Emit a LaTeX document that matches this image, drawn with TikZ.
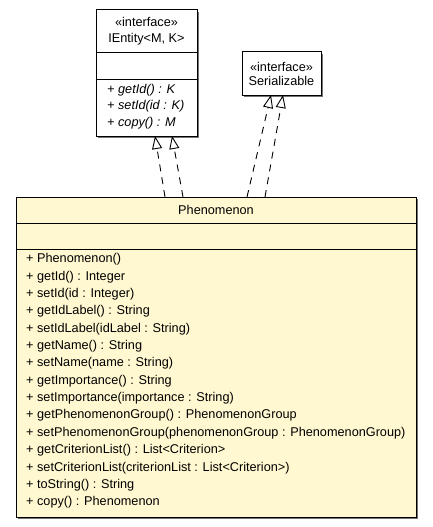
\documentclass[tikz,border=0pt]{standalone}
\usepackage{fontspec}
\setmainfont{Liberation Sans}
\usetikzlibrary{positioning,arrows.meta,shadows}
\definecolor{classyellow}{RGB}{255,248,208}

\tikzset{
  box/.style={draw, line width=1pt, inner sep=0pt, outer sep=0pt, fill=white,
    drop shadow={shadow xshift=2pt, shadow yshift=-2pt, fill=black!55, opacity=1}},
  ybox/.style={box, fill=classyellow},
  op/.style={anchor=west, inner sep=0pt, text height=9pt, text depth=2.8pt},
  realize/.style={draw, line width=0.9pt, dash pattern=on 7pt off 6pt,
    -{Triangle[open, length=13pt, width=10pt, line width=0.9pt]}}
}

\begin{document}
\begin{tikzpicture}[x=1pt, y=-1pt, font=\fontsize{12.7}{14}\selectfont]
\useasboundingbox (0,0) rectangle (432,527);

% interface IEntity
\node[box, minimum width=101pt, minimum height=43pt, align=center, anchor=north] (ient) at (146.5,10) {«interface»\\[2pt]IEntity<M, K>};
\node[box, minimum width=101pt, minimum height=26pt, below=0pt of ient] (ientattr) {};
\node[box, minimum width=101pt, minimum height=57pt, below=0pt of ientattr] (ientops) {};
\foreach [count=\i] \t in {getId() : K, setId(id : K), copy() : M}
  \node[op, font=\fontsize{12.7}{14}\selectfont\itshape] (iop\i) at (107, 90+16.7*\i-16.7) {+ \t};

% interface Serializable
\node[box, minimum width=79pt, minimum height=43pt, align=center, anchor=north] (ser) at (281.5,52) {«interface»\\Serializable};

% class Phenomenon
\node[ybox, minimum width=400pt, minimum height=26pt, anchor=north] (phen) at (216,197) {Phenomenon};
\node[ybox, minimum width=400pt, minimum height=26pt, below=0pt of phen] (phenattr) {};
\node[ybox, minimum width=400pt, minimum height=268pt, below=0pt of phenattr] (phenops) {};
\foreach [count=\i] \t in {Phenomenon(), getId() : Integer, setId(id : Integer),
    getIdLabel() : String, setIdLabel(idLabel : String), getName() : String,
    setName(name : String), getImportance() : String,
    setImportance(importance : String), getPhenomenonGroup() : PhenomenonGroup,
    setPhenomenonGroup(phenomenonGroup : PhenomenonGroup),
    getCriterionList() : List<Criterion>,
    setCriterionList(criterionList : List<Criterion>), toString() : String,
    copy() : Phenomenon}
  \node[op] (pop\i) at (26, 259.7+17.35*\i-17.35) {+ \t};

% realizations
\draw[realize] ([xshift=-51pt]phen.north) -- ([xshift=8.5pt]ientops.south);
\draw[realize] ([xshift=-33pt]phen.north) -- ([xshift=25.5pt]ientops.south);
\draw[realize] ([xshift=31pt]phen.north) -- ([xshift=-10.5pt]ser.south);
\draw[realize] ([xshift=49pt]phen.north) -- ([xshift=1.5pt]ser.south);
\end{tikzpicture}
\end{document}
